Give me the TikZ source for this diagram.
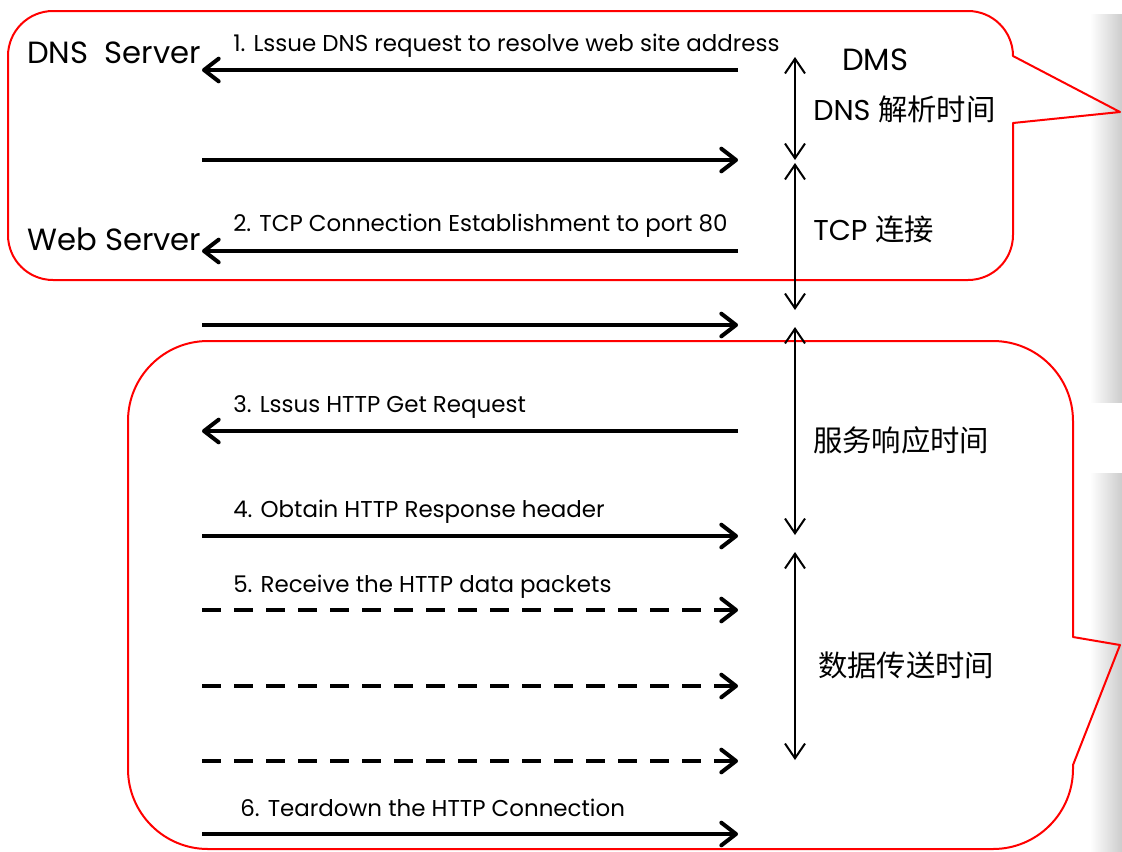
\documentclass[tikz,border=0pt]{standalone}
\usepackage{fontspec}
\setmainfont{Poppins}
\newfontfamily\cjk{Noto Sans CJK SC}
\usetikzlibrary{arrows.meta}
\begin{document}
\begin{tikzpicture}[x=0.75pt,y=-0.75pt,
  callout/.style={draw=red, line width=1.5pt, line join=round},
  msg/.style={line width=3pt, -{Straight Barb[length=11pt,width=17pt,round]}},
  dmsg/.style={msg, dash pattern=on 14pt off 10pt},
  span/.style={line width=1.5pt,
    {Straight Barb[length=11pt,width=15pt]}-{Straight Barb[length=11pt,width=15pt]}},
  lbl/.style={anchor=base west, inner sep=0pt, font=\fontsize{17.2}{20}\selectfont},
  big/.style={anchor=base west, inner sep=0pt, font=\fontsize{23}{26}\selectfont},
  side/.style={anchor=base west, inner sep=0pt, font=\fontsize{21.5}{25}\selectfont},
]
\useasboundingbox (0,0) rectangle (1122,851);

% soft shadow along the right edge
\shade[left color=white, right color=black!20] (1090,14) rectangle (1122,402);
\shade[left color=white, right color=black!20] (1090,473) rectangle (1122,851);

% callout around the DNS lookup and TCP handshake
\draw[callout] (53,11) -- (968,11) arc[start angle=-90,end angle=0,radius=45]
  -- (1120,112) -- (1013,123) -- (1013,235) arc[start angle=0,end angle=90,radius=45]
  -- (53,280) arc[start angle=90,end angle=180,radius=45]
  -- (8,56) arc[start angle=180,end angle=270,radius=45] -- cycle;

% callout around the HTTP exchange
\draw[callout] (208,341) -- (993,341) arc[start angle=-90,end angle=0,radius=80]
  -- (1073,637) -- (1120,645) -- (1073,765) -- (1073,769)
  arc[start angle=0,end angle=90,radius=80]
  -- (208,849) arc[start angle=90,end angle=180,radius=80]
  -- (128,421) arc[start angle=180,end angle=270,radius=80] -- cycle;

% end points of the messages
\foreach \n/\y in {1/70,2/160,3/251,4/325,5/431,6/536,7/610,8/686,9/761,10/834}{
  \coordinate (c\n) at (202,\y);
  \coordinate (s\n) at (738,\y);
}

% messages
\draw[msg] (s1) -- (c1);
\draw[msg] (c2) -- (s2);
\draw[msg] (s3) -- (c3);
\draw[msg] (c4) -- (s4);
\draw[msg] (s5) -- (c5);
\draw[msg] (c6) -- (s6);
\draw[dmsg] (c7) -- (s7);
\draw[dmsg] (c8) -- (s8);
\draw[dmsg] (c9) -- (s9);
\draw[msg] (c10) -- (s10);

% message labels
\node[lbl] (m1) at (233,51) {1. Lssue DNS request to resolve web site address};
\node[lbl] (m2) at (233,231) {2. TCP Connection Establishment to port 80};
\node[lbl] (m3) at (233,412) {3. Lssus HTTP Get Request};
\node[lbl] (m4) at (233,517) {4. Obtain HTTP Response header};
\node[lbl] (m5) at (233,592) {5. Receive the HTTP data packets};
\node[lbl] (m6) at (240,816) {6. Teardown the HTTP Connection};

% hosts
\node[big] (dns) at (27,63) {DNS\ \ Server};
\node[big] (web) at (27,250) {Web Server};
\node[big] (dms) at (842,70) {DMS};

% time spans
\coordinate (p1) at (795,57);
\coordinate (p2) at (795,160);
\coordinate (p3) at (795,163);
\coordinate (p4) at (795,310);
\coordinate (p5) at (795,327);
\coordinate (p6) at (795,535);
\coordinate (p7) at (795,552);
\coordinate (p8) at (795,760);
\draw[span] (p1) -- (p2);
\draw[span] (p3) -- (p4);
\draw[span] (p5) -- (p6);
\draw[span] (p7) -- (p8);

\node[side] (d1) at (813,120) {DNS {\cjk\fontsize{22}{25}\selectfont 解析时间}};
\node[side] (d2) at (813,240) {TCP {\cjk\fontsize{22}{25}\selectfont 连接}};
\node[side] (d3) at (813,451) {\cjk\fontsize{22}{25}\selectfont 服务响应时间};
\node[side] (d4) at (818,676) {\cjk\fontsize{22}{25}\selectfont 数据传送时间};
\end{tikzpicture}
\end{document}
